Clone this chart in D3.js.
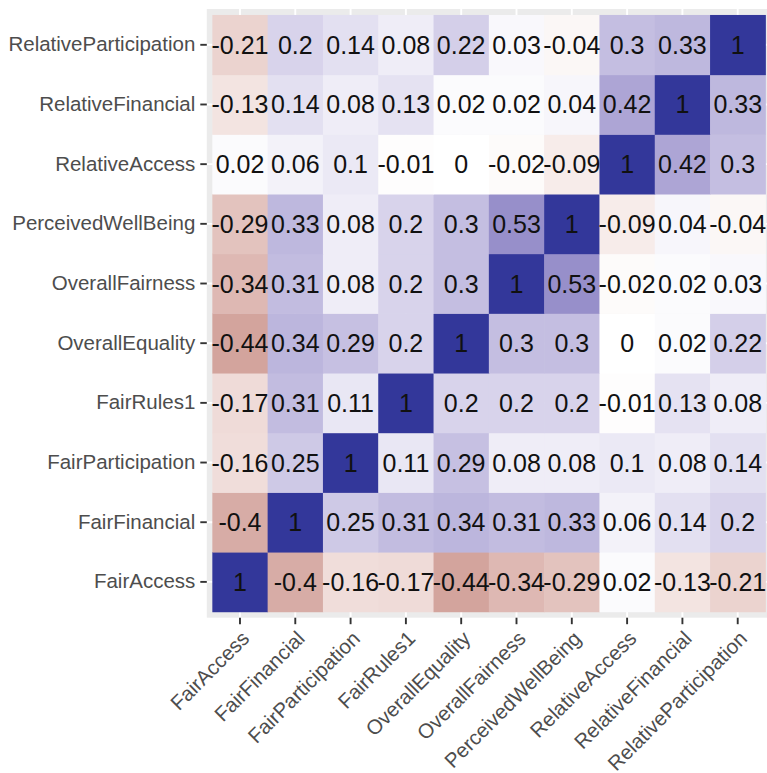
<!DOCTYPE html>
<html>
<head>
<meta charset="utf-8">
<script src="https://cdn.jsdelivr.net/npm/d3@7"></script>
<style>
  body { margin: 0; background: #fff; }
  svg { display: block; font-family: "Liberation Sans", Arial, Helvetica, sans-serif; }
</style>
</head>
<body>
<svg id="chart"></svg>
<script>
// variable order, bottom row / left column first
const variables = [
  "FairAccess", "FairFinancial", "FairParticipation", "FairRules1",
  "OverallEquality", "OverallFairness", "PerceivedWellBeing",
  "RelativeAccess", "RelativeFinancial", "RelativeParticipation"
]

// one row per y variable (same order as variables), values per x variable
const corrRows = [
  [1, -0.4, -0.16, -0.17, -0.44, -0.34, -0.29, 0.02, -0.13, -0.21],
  [-0.4, 1, 0.25, 0.31, 0.34, 0.31, 0.33, 0.06, 0.14, 0.2],
  [-0.16, 0.25, 1, 0.11, 0.29, 0.08, 0.08, 0.1, 0.08, 0.14],
  [-0.17, 0.31, 0.11, 1, 0.2, 0.2, 0.2, -0.01, 0.13, 0.08],
  [-0.44, 0.34, 0.29, 0.2, 1, 0.3, 0.3, 0, 0.02, 0.22],
  [-0.34, 0.31, 0.08, 0.2, 0.3, 1, 0.53, -0.02, 0.02, 0.03],
  [-0.29, 0.33, 0.08, 0.2, 0.3, 0.53, 1, -0.09, 0.04, -0.04],
  [0.02, 0.06, 0.1, -0.01, 0, -0.02, -0.09, 1, 0.42, 0.3],
  [-0.13, 0.14, 0.08, 0.13, 0.02, 0.02, 0.04, 0.42, 1, 0.33],
  [-0.21, 0.2, 0.14, 0.08, 0.22, 0.03, -0.04, 0.3, 0.33, 1]
]

const svgWidth = 767
const svgHeight = 773

const panel = {left: 206.8, top: 9, width: 564.1, height: 608.7}

const svg = d3.select("#chart")
  .attr("width", svgWidth)
  .attr("height", svgHeight)

svg.append("rect")
  .attr("width", svgWidth)
  .attr("height", svgHeight)
  .attr("fill", "#fff")

const x = d3.scaleBand()
  .domain(variables)
  .range([panel.left, panel.left + panel.width])
  .paddingInner(0)
  .paddingOuter(0.1)

const y = d3.scaleBand()
  .domain(variables)
  .range([panel.top + panel.height, panel.top])
  .paddingInner(0)
  .paddingOuter(0.1)

const lowCol = d3.interpolateLab("#ffffff", "#8f3530")
const highCol = d3.interpolateLab("#ffffff", "#33379a")
const fill = v => v < 0 ? lowCol(-v) : highCol(v)

const cells = []
corrRows.forEach((row, i) => {
  row.forEach((v, j) => {
    cells.push({xVar: variables[j], yVar: variables[i], value: v})
  })
})

// panel background + grid
svg.append("rect")
  .attr("x", panel.left)
  .attr("y", panel.top)
  .attr("width", panel.width)
  .attr("height", panel.height)
  .attr("fill", "#ebebeb")

const grid = svg.append("g")
grid.selectAll("line.v")
  .data(variables)
  .enter().append("line")
  .attr("x1", d => x(d) + x.bandwidth() / 2)
  .attr("x2", d => x(d) + x.bandwidth() / 2)
  .attr("y1", panel.top)
  .attr("y2", panel.top + panel.height)
  .attr("stroke", "#fff")
  .attr("stroke-width", 1.9)
grid.selectAll("line.h")
  .data(variables)
  .enter().append("line")
  .attr("y1", d => y(d) + y.bandwidth() / 2)
  .attr("y2", d => y(d) + y.bandwidth() / 2)
  .attr("x1", panel.left)
  .attr("x2", panel.left + panel.width)
  .attr("stroke", "#fff")
  .attr("stroke-width", 1.9)

svg.append("g")
  .selectAll("rect")
  .data(cells)
  .enter().append("rect")
  .attr("x", d => x(d.xVar))
  .attr("y", d => y(d.yVar))
  .attr("width", x.bandwidth() + 0.5)
  .attr("height", y.bandwidth() + 0.5)
  .attr("fill", d => fill(d.value))

// plain hyphen for negatives, like R prints them
svg.append("g")
  .selectAll("text")
  .data(cells)
  .enter().append("text")
  .attr("x", d => x(d.xVar) + x.bandwidth() / 2)
  .attr("y", d => y(d.yVar) + y.bandwidth() / 2)
  .attr("dy", "0.36em")
  .attr("text-anchor", "middle")
  .attr("font-size", 25)
  .attr("fill", "#111")
  .text(d => String(d.value))

// axes
const yAxis = svg.append("g")
  .attr("transform", `translate(${panel.left},0)`)
  .call(d3.axisLeft(y).tickSize(6.5).tickPadding(5))
yAxis.select(".domain").remove()
yAxis.selectAll(".tick line").attr("stroke", "#333").attr("stroke-width", 1.9)
yAxis.selectAll(".tick text")
  .attr("fill", "#4d4d4d")
  .attr("font-size", 20.5)
  .attr("font-family", null)

const xAxis = svg.append("g")
  .attr("transform", `translate(0,${panel.top + panel.height})`)
  .call(d3.axisBottom(x).tickSize(6.5).tickPadding(5))
xAxis.select(".domain").remove()
xAxis.selectAll(".tick line").attr("stroke", "#333").attr("stroke-width", 1.9)
xAxis.selectAll(".tick text")
  .attr("fill", "#4d4d4d")
  .attr("font-size", 20.5)
  .attr("font-family", null)
  .attr("text-anchor", "end")
  .attr("y", 0)
  .attr("dy", null)
  .attr("transform", "translate(0,11.5) rotate(-45) translate(0,15)")
</script>
</body>
</html>
